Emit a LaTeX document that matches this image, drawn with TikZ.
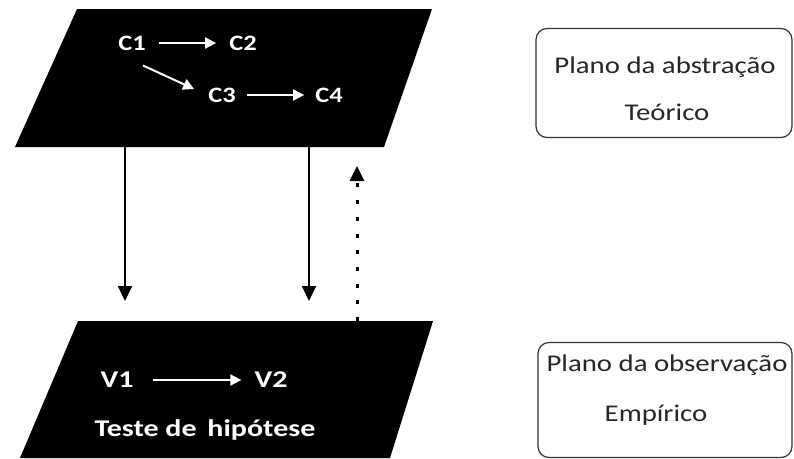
\documentclass[tikz,border=0pt]{standalone}
\usepackage{fontspec}
\setmainfont{Carlito}
\newfontfamily\widefont{Carlito}[FakeStretch=1.2]
\newfontfamily\widerfont{Carlito}[FakeStretch=1.25]
\usepackage{tikz}
\usetikzlibrary{arrows.meta}

\begin{document}
\begin{tikzpicture}[x=1pt, y=-1pt,
        plane/.style={fill=black},
        var/.style={text=white, font=\widefont\bfseries\fontsize{22}{26}\selectfont, inner sep=1pt},
        wvar/.style={text=white, font=\widerfont\bfseries\fontsize{24}{28}\selectfont, inner sep=1pt},
        warr/.style={white, line width=2pt, -{Triangle[width=11pt,length=11pt]}},
        barr/.style={line width=1.8pt, -{Triangle[width=14pt,length=15pt]}},
        plan/.style={draw=black!80, line width=1.2pt, rounded corners=11pt},
        plantxt/.style={text=black!85, font=\widefont\fontsize{24}{28}\selectfont, inner sep=1pt}]
        \useasboundingbox (0,0) rectangle (794,458);

        % planes
        \fill[plane] (77,9) -- (432,9) -- (384,147) -- (15,147) -- cycle;
        \fill[plane] (78,321) -- (433,321) -- (390,458) -- (20,458) -- cycle;

        % theory plane
        \node (c1) [var] at (132,43) {C1};
        \node (c2) [var] at (243,43) {C2};
        \node (c3) [var] at (222,95) {C3};
        \node (c4) [var] at (329,95) {C4};
        \draw[warr] (c1) -- (c2) [shorten <=12pt, shorten >=12pt];
        \draw[warr] ([shift={(11,14)}]c1.south) -- ([shift={(-13,-6)}]c3.west);
        \draw[warr] (c3) -- (c4) [shorten <=10pt, shorten >=10pt];

        % observation plane
        \node (v1) [wvar] at (117,380) {V1};
        \node (v2) [wvar] at (271,380) {V2};
        \node (teste) [wvar] at (205,430) {Teste de\, hipótese};
        \draw[warr] (v1) -- (v2) [shorten <=18pt, shorten >=12pt];

        % links between planes
        \coordinate (t1) at (125,147);
        \coordinate (t2) at (309,147);
        \coordinate (e1) at (125,301);
        \coordinate (e2) at (309,301);
        \coordinate (b3) at (357,321);
        \coordinate (e3) at (357,166);
        \draw[barr] (t1) -- (e1);
        \draw[barr] (t2) -- (e2);
        \draw[barr, dash pattern=on 4pt off 12.7pt, line width=3pt] (b3) -- (e3);

        % labels
        \node (abs) [plan, minimum width=256pt, minimum height=109pt] at (664,83) {};
        \node (abs1) [plantxt] at (665,67) {Plano da abstração};
        \node (abs2) [plantxt] at (667,112) {Teórico};
        \node (obs) [plan, minimum width=254pt, minimum height=115pt] at (665,400) {};
        \node (obs1) [plantxt] at (667,365) {Plano da observação};
        \node (obs2) [plantxt] at (656,415) {Empírico};
\end{tikzpicture}
\end{document}
